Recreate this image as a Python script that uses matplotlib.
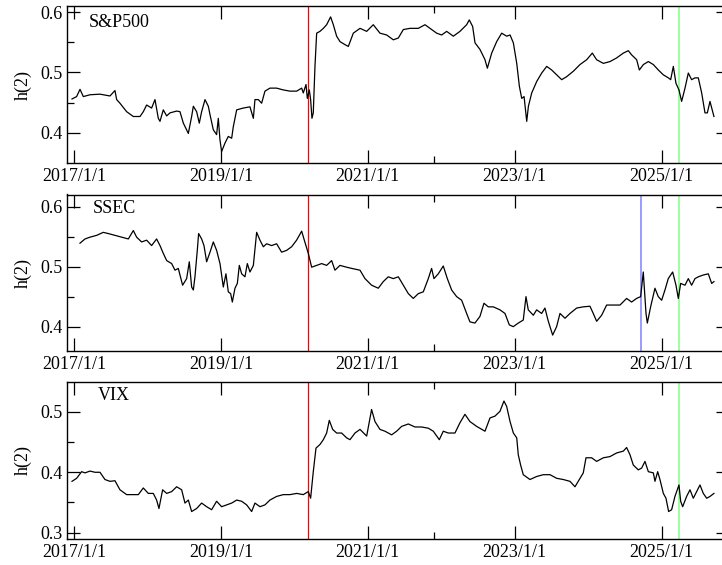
import numpy as np
import matplotlib
matplotlib.use("Agg")
import matplotlib.pyplot as plt
from matplotlib.ticker import FixedLocator, NullFormatter

plt.rcParams['font.family'] = ['Liberation Serif', 'DejaVu Serif']

# ---------------- data (decimal years, h(2) values) ----------------
sp_t = [2016.973, 2017.036, 2017.082, 2017.127, 2017.218, 2017.354, 2017.490, 2017.558, 2017.581, 2017.626,
        2017.717, 2017.808, 2017.899, 2017.944, 2017.989, 2018.057, 2018.103, 2018.148, 2018.171, 2018.216,
        2018.262, 2018.307, 2018.398, 2018.443, 2018.489, 2018.557, 2018.602, 2018.625, 2018.670, 2018.706,
        2018.738, 2018.784, 2018.829, 2018.852, 2018.897, 2018.942, 2018.965, 2018.988, 2019.010, 2019.056,
        2019.101, 2019.147, 2019.169, 2019.215, 2019.305, 2019.396, 2019.442, 2019.464, 2019.510, 2019.555,
        2019.600, 2019.668, 2019.759, 2019.850, 2019.941, 2020.032, 2020.100, 2020.122, 2020.159, 2020.177,
        2020.204, 2020.222, 2020.240, 2020.258, 2020.281, 2020.304, 2020.349, 2020.395, 2020.440, 2020.494,
        2020.531, 2020.576, 2020.622, 2020.690, 2020.735, 2020.803, 2020.894, 2020.985, 2021.075, 2021.166,
        2021.257, 2021.348, 2021.416, 2021.484, 2021.575, 2021.688, 2021.779, 2021.870, 2021.938, 2022.006,
        2022.074, 2022.165, 2022.255, 2022.346, 2022.382, 2022.428, 2022.460, 2022.528, 2022.596, 2022.628,
        2022.687, 2022.755, 2022.823, 2022.891, 2022.937, 2022.982, 2023.028, 2023.064, 2023.096, 2023.128,
        2023.164, 2023.187, 2023.232, 2023.300, 2023.368, 2023.436, 2023.504, 2023.572, 2023.640, 2023.708,
        2023.799, 2023.889, 2023.980, 2024.057, 2024.116, 2024.207, 2024.298, 2024.388, 2024.479, 2024.547,
        2024.593, 2024.661, 2024.697, 2024.752, 2024.820, 2024.888, 2024.956, 2025.024, 2025.092, 2025.124,
        2025.160, 2025.196, 2025.237, 2025.273, 2025.319, 2025.364, 2025.409, 2025.455, 2025.500, 2025.546,
        2025.591, 2025.623, 2025.659, 2025.713]
sp_v = [0.456, 0.460, 0.472, 0.460, 0.463, 0.464, 0.461, 0.470, 0.455, 0.449,
        0.435, 0.427, 0.427, 0.435, 0.446, 0.441, 0.455, 0.424, 0.419, 0.438,
        0.428, 0.433, 0.436, 0.435, 0.416, 0.399, 0.427, 0.444, 0.435, 0.416,
        0.435, 0.455, 0.444, 0.430, 0.405, 0.397, 0.424, 0.388, 0.369, 0.383,
        0.394, 0.391, 0.410, 0.438, 0.441, 0.443, 0.424, 0.455, 0.455, 0.449,
        0.469, 0.474, 0.474, 0.471, 0.469, 0.469, 0.474, 0.466, 0.480, 0.457,
        0.471, 0.455, 0.424, 0.433, 0.510, 0.565, 0.568, 0.573, 0.579, 0.592,
        0.579, 0.560, 0.551, 0.546, 0.543, 0.565, 0.573, 0.568, 0.579, 0.565,
        0.562, 0.554, 0.557, 0.571, 0.573, 0.573, 0.579, 0.571, 0.565, 0.562,
        0.568, 0.560, 0.568, 0.579, 0.587, 0.576, 0.549, 0.538, 0.521, 0.507,
        0.532, 0.551, 0.565, 0.560, 0.562, 0.549, 0.515, 0.477, 0.457, 0.460,
        0.419, 0.444, 0.466, 0.485, 0.499, 0.510, 0.504, 0.496, 0.488, 0.493,
        0.502, 0.513, 0.521, 0.532, 0.521, 0.515, 0.518, 0.524, 0.532, 0.536,
        0.529, 0.521, 0.504, 0.513, 0.518, 0.513, 0.504, 0.496, 0.491, 0.488,
        0.510, 0.482, 0.471, 0.452, 0.474, 0.499, 0.488, 0.491, 0.491, 0.466,
        0.433, 0.433, 0.452, 0.427]

ss_t = [2017.082, 2017.150, 2017.218, 2017.309, 2017.399, 2017.467, 2017.558, 2017.649, 2017.740, 2017.808,
        2017.853, 2017.921, 2017.989, 2018.057, 2018.125, 2018.171, 2018.216, 2018.262, 2018.330, 2018.375,
        2018.420, 2018.479, 2018.534, 2018.570, 2018.602, 2018.625, 2018.647, 2018.679, 2018.697, 2018.738,
        2018.770, 2018.806, 2018.852, 2018.897, 2018.942, 2018.988, 2019.033, 2019.069, 2019.101, 2019.133,
        2019.156, 2019.192, 2019.224, 2019.251, 2019.283, 2019.328, 2019.360, 2019.396, 2019.442, 2019.487,
        2019.532, 2019.578, 2019.623, 2019.691, 2019.759, 2019.827, 2019.895, 2019.963, 2020.031, 2020.100,
        2020.131, 2020.190, 2020.236, 2020.304, 2020.372, 2020.440, 2020.508, 2020.553, 2020.621, 2020.712,
        2020.780, 2020.894, 2020.962, 2021.052, 2021.143, 2021.211, 2021.279, 2021.347, 2021.416, 2021.484,
        2021.552, 2021.620, 2021.688, 2021.756, 2021.824, 2021.869, 2021.901, 2021.960, 2022.028, 2022.083,
        2022.142, 2022.210, 2022.278, 2022.346, 2022.391, 2022.459, 2022.527, 2022.582, 2022.641, 2022.709,
        2022.800, 2022.868, 2022.927, 2022.981, 2023.049, 2023.117, 2023.154, 2023.185, 2023.254, 2023.299,
        2023.367, 2023.412, 2023.458, 2023.517, 2023.571, 2023.617, 2023.685, 2023.753, 2023.844, 2023.934,
        2024.025, 2024.070, 2024.116, 2024.184, 2024.252, 2024.343, 2024.434, 2024.524, 2024.592, 2024.660,
        2024.715, 2024.751, 2024.788, 2024.806, 2024.851, 2024.910, 2024.955, 2025.001, 2025.046, 2025.091,
        2025.151, 2025.196, 2025.228, 2025.260, 2025.319, 2025.364, 2025.409, 2025.455, 2025.500, 2025.568,
        2025.636, 2025.682, 2025.713]
ss_v = [0.539, 0.546, 0.549, 0.552, 0.557, 0.555, 0.552, 0.549, 0.546, 0.560,
        0.549, 0.541, 0.544, 0.535, 0.546, 0.535, 0.522, 0.510, 0.505, 0.494,
        0.497, 0.469, 0.480, 0.508, 0.466, 0.461, 0.483, 0.527, 0.555, 0.546,
        0.535, 0.508, 0.524, 0.541, 0.527, 0.505, 0.466, 0.488, 0.458, 0.455,
        0.441, 0.464, 0.472, 0.502, 0.488, 0.483, 0.505, 0.491, 0.502, 0.557,
        0.544, 0.533, 0.538, 0.535, 0.538, 0.524, 0.527, 0.533, 0.544, 0.559,
        0.546, 0.522, 0.499, 0.502, 0.505, 0.502, 0.510, 0.494, 0.502, 0.499,
        0.497, 0.494, 0.480, 0.469, 0.464, 0.475, 0.483, 0.480, 0.483, 0.469,
        0.455, 0.447, 0.455, 0.458, 0.480, 0.497, 0.480, 0.488, 0.501, 0.480,
        0.461, 0.450, 0.444, 0.422, 0.408, 0.406, 0.417, 0.439, 0.433, 0.433,
        0.428, 0.422, 0.403, 0.400, 0.406, 0.411, 0.450, 0.428, 0.419, 0.428,
        0.422, 0.431, 0.409, 0.386, 0.400, 0.422, 0.414, 0.422, 0.431, 0.433,
        0.434, 0.422, 0.409, 0.419, 0.436, 0.436, 0.436, 0.447, 0.441, 0.447,
        0.450, 0.491, 0.422, 0.406, 0.433, 0.464, 0.450, 0.444, 0.461, 0.480,
        0.491, 0.469, 0.447, 0.472, 0.469, 0.480, 0.469, 0.480, 0.483, 0.486,
        0.488, 0.472, 0.475]

vix_t = [2016.973, 2017.036, 2017.104, 2017.150, 2017.218, 2017.286, 2017.354, 2017.422, 2017.490, 2017.558,
         2017.626, 2017.717, 2017.808, 2017.876, 2017.944, 2018.012, 2018.080, 2018.125, 2018.157, 2018.207,
         2018.262, 2018.330, 2018.398, 2018.466, 2018.511, 2018.557, 2018.602, 2018.670, 2018.738, 2018.806,
         2018.874, 2018.942, 2019.010, 2019.078, 2019.147, 2019.215, 2019.283, 2019.351, 2019.419, 2019.464,
         2019.532, 2019.600, 2019.668, 2019.759, 2019.850, 2019.941, 2020.032, 2020.122, 2020.190, 2020.222,
         2020.258, 2020.295, 2020.349, 2020.395, 2020.440, 2020.476, 2020.522, 2020.576, 2020.644, 2020.712,
         2020.758, 2020.826, 2020.894, 2020.985, 2021.052, 2021.098, 2021.166, 2021.234, 2021.325, 2021.393,
         2021.461, 2021.552, 2021.643, 2021.733, 2021.824, 2021.892, 2021.974, 2022.028, 2022.096, 2022.187,
         2022.255, 2022.323, 2022.391, 2022.482, 2022.596, 2022.664, 2022.732, 2022.800, 2022.854, 2022.891,
         2022.937, 2022.982, 2023.028, 2023.049, 2023.081, 2023.117, 2023.208, 2023.299, 2023.390, 2023.481,
         2023.572, 2023.662, 2023.753, 2023.821, 2023.889, 2023.934, 2023.971, 2024.048, 2024.116, 2024.207,
         2024.298, 2024.388, 2024.479, 2024.524, 2024.570, 2024.615, 2024.683, 2024.729, 2024.774, 2024.820,
         2024.888, 2024.910, 2024.947, 2024.978, 2025.024, 2025.060, 2025.096, 2025.137, 2025.182, 2025.205,
         2025.237, 2025.260, 2025.287, 2025.341, 2025.387, 2025.432, 2025.477, 2025.523, 2025.568, 2025.614,
         2025.659, 2025.713]
vix_v = [0.385, 0.390, 0.401, 0.399, 0.402, 0.400, 0.400, 0.388, 0.385, 0.386,
         0.371, 0.363, 0.363, 0.363, 0.374, 0.365, 0.365, 0.354, 0.340, 0.371,
         0.365, 0.368, 0.376, 0.371, 0.349, 0.354, 0.335, 0.340, 0.349, 0.343,
         0.338, 0.352, 0.343, 0.346, 0.349, 0.354, 0.352, 0.346, 0.335, 0.349,
         0.343, 0.346, 0.354, 0.360, 0.363, 0.363, 0.365, 0.363, 0.368, 0.357,
         0.401, 0.440, 0.446, 0.454, 0.465, 0.486, 0.471, 0.465, 0.465, 0.457,
         0.454, 0.465, 0.471, 0.460, 0.504, 0.484, 0.471, 0.468, 0.462, 0.468,
         0.476, 0.480, 0.475, 0.475, 0.473, 0.468, 0.454, 0.468, 0.465, 0.465,
         0.482, 0.496, 0.484, 0.476, 0.468, 0.490, 0.493, 0.501, 0.518, 0.509,
         0.484, 0.465, 0.457, 0.429, 0.412, 0.396, 0.388, 0.393, 0.396, 0.396,
         0.390, 0.388, 0.385, 0.376, 0.390, 0.399, 0.424, 0.424, 0.418, 0.424,
         0.426, 0.432, 0.435, 0.441, 0.429, 0.412, 0.404, 0.407, 0.418, 0.401,
         0.399, 0.385, 0.401, 0.388, 0.365, 0.357, 0.335, 0.338, 0.360, 0.368,
         0.379, 0.352, 0.343, 0.360, 0.371, 0.357, 0.368, 0.379, 0.365, 0.357,
         0.360, 0.365]

names = ["S&P500", "SSEC", "VIX"]
event_covid = 2020.19
event_cn = 2024.72
event_tariff = 2025.237

xtick_major = [2017, 2019, 2021, 2023, 2025]
xtick_labels = ["2017/1/1", "2019/1/1", "2021/1/1", "2023/1/1", "2025/1/1"]
xtick_minor = [2021.90]

# ---------------- figure ----------------
W, H = 722, 565
fig = plt.figure(figsize=(W / 100, H / 100), dpi=100)

def frac_box(left, top, right, bottom):
    return [left / W, 1 - bottom / H, (right - left) / W, (bottom - top) / H]

boxes = [frac_box(67, 6, 729, 163), frac_box(67, 194.5, 729, 350.7), frac_box(67, 381.7, 729, 538.7)]
ylims = [(0.35, 0.61), (0.36, 0.62), (0.29, 0.55)]
yticks = [[0.4, 0.5, 0.6], [0.4, 0.5, 0.6], [0.3, 0.4, 0.5]]
yminor = [[0.45, 0.55], [0.45, 0.55], [0.35, 0.45]]
label_pos = [(0.033, 0.868), (0.039, 0.883), (0.047, 0.883)]
series = [(sp_t, sp_v), (ss_t, ss_v), (vix_t, vix_v)]

for i in range(3):
    ax = fig.add_axes(boxes[i])
    t, v = series[i]
    ax.plot(t, v, color="black", lw=0.9, zorder=3)
    ax.axvline(event_covid, color="#ff0000", lw=0.9, zorder=2)
    ax.axvline(event_tariff, color="#80ff80", lw=1.1, zorder=2)
    if i == 1:
        ax.axvline(event_cn, color="#8080ff", lw=1.1, zorder=2)
    ax.set_xlim(2016.905, 2025.918)
    ax.set_ylim(*ylims[i])
    ax.xaxis.set_major_locator(FixedLocator(xtick_major))
    ax.set_xticklabels(xtick_labels)
    ax.xaxis.set_minor_locator(FixedLocator(xtick_minor))
    ax.yaxis.set_major_locator(FixedLocator(yticks[i]))
    ax.yaxis.set_minor_locator(FixedLocator(yminor[i]))
    ax.yaxis.set_minor_formatter(NullFormatter())
    ax.set_yticklabels([f"{y:.1f}" for y in yticks[i]])
    ax.tick_params(which="both", direction="in", top=True, right=True, width=0.9,
                   labelsize=13, colors="black")
    ax.tick_params(which="major", length=9.4)
    ax.tick_params(which="minor", length=5)
    ax.tick_params(axis="x", pad=3.5)
    ax.tick_params(axis="y", pad=3.5)
    for s in ax.spines.values():
        s.set_linewidth(1.0)
        s.set_color("black")
    ax.text(label_pos[i][0], label_pos[i][1], names[i], transform=ax.transAxes,
            fontsize=13, ha="left", va="baseline")
    ax.text(-0.066, 0.5, "h(2)", transform=ax.transAxes, rotation=90,
            fontsize=13, ha="center", va="center")

fig.savefig("out.png", dpi=100)
